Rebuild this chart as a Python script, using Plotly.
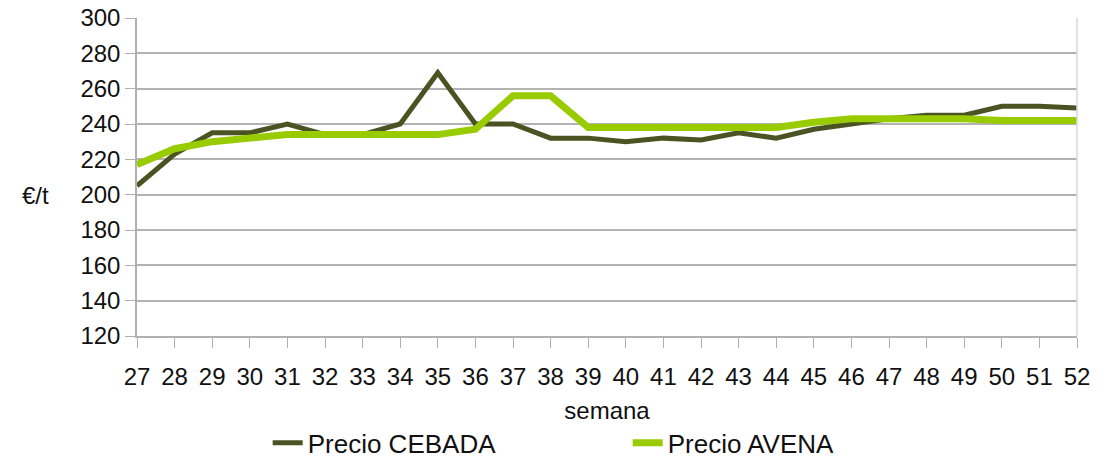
import plotly.graph_objects as go

semanas = list(range(27, 53))

precio_cebada = [205, 223, 235, 235, 240, 234, 234, 240, 269, 240,
                 240, 232, 232, 230, 232, 231, 235, 232, 237, 240,
                 243, 245, 245, 250, 250, 249]

precio_avena = [217, 226, 230, 232, 234, 234, 234, 234, 234, 237,
                256, 256, 238, 238, 238, 238, 238, 238, 241, 243,
                243, 243, 243, 242, 242, 242]

y_ticks = list(range(120, 301, 20))

fuente = "Liberation Sans, Arial, sans-serif"

fig = go.Figure()

fig.add_trace(go.Scatter(
    x=semanas, y=precio_cebada, mode="lines", name="Precio CEBADA",
    line=dict(color="#4a5321", width=5)))

fig.add_trace(go.Scatter(
    x=semanas, y=precio_avena, mode="lines", name="Precio AVENA",
    line=dict(color="#99cc00", width=7)))

fig.update_layout(
    width=1109, height=461,
    margin=dict(l=137, r=32, t=18, b=125, autoexpand=False),
    plot_bgcolor="white", paper_bgcolor="white",
    font=dict(family=fuente, size=24, color="#111111"),
    showlegend=True,
    legend=dict(orientation="h", x=0.522, xanchor="center", y=-0.336, yanchor="middle",
                font=dict(size=26), entrywidth=315, entrywidthmode="pixels",
                traceorder="normal"),
    annotations=[dict(text="€/t", xref="paper", yref="paper", x=-0.1085, y=0.443,
                      showarrow=False, font=dict(size=24), xanchor="center", yanchor="middle")],
    shapes=[dict(type="line", xref="paper", yref="paper", x0=1, x1=1, y0=0, y1=1,
                 line=dict(color="#d9d9d9", width=1.5))],
)

fig.update_xaxes(
    tickmode="array", tickvals=semanas, ticktext=[str(s) for s in semanas],
    range=[27, 52], showgrid=False, zeroline=False, automargin=False,
    showline=True, linecolor="#b0b0b0", linewidth=1.5,
    ticks="outside", ticklen=10, tickcolor="#b0b0b0", ticklabelstandoff=8,
    ticklabeloverflow="allow",
    title=dict(text="semana", standoff=14, font=dict(size=24)),
)

fig.update_yaxes(
    tickmode="array", tickvals=y_ticks, range=[120, 300], automargin=False,
    showgrid=True, gridcolor="#b3b3b3", gridwidth=1.5, zeroline=False,
    showline=True, linecolor="#b0b0b0", linewidth=1.5,
    ticks="outside", ticklen=10, tickcolor="#b0b0b0",
    ticklabeloverflow="allow",
)

# quitar el margen por defecto del body para que la figura empiece en 0,0
fig.write_html("out.html", config={"displayModeBar": False},
               post_script="document.body.style.margin='0';")
